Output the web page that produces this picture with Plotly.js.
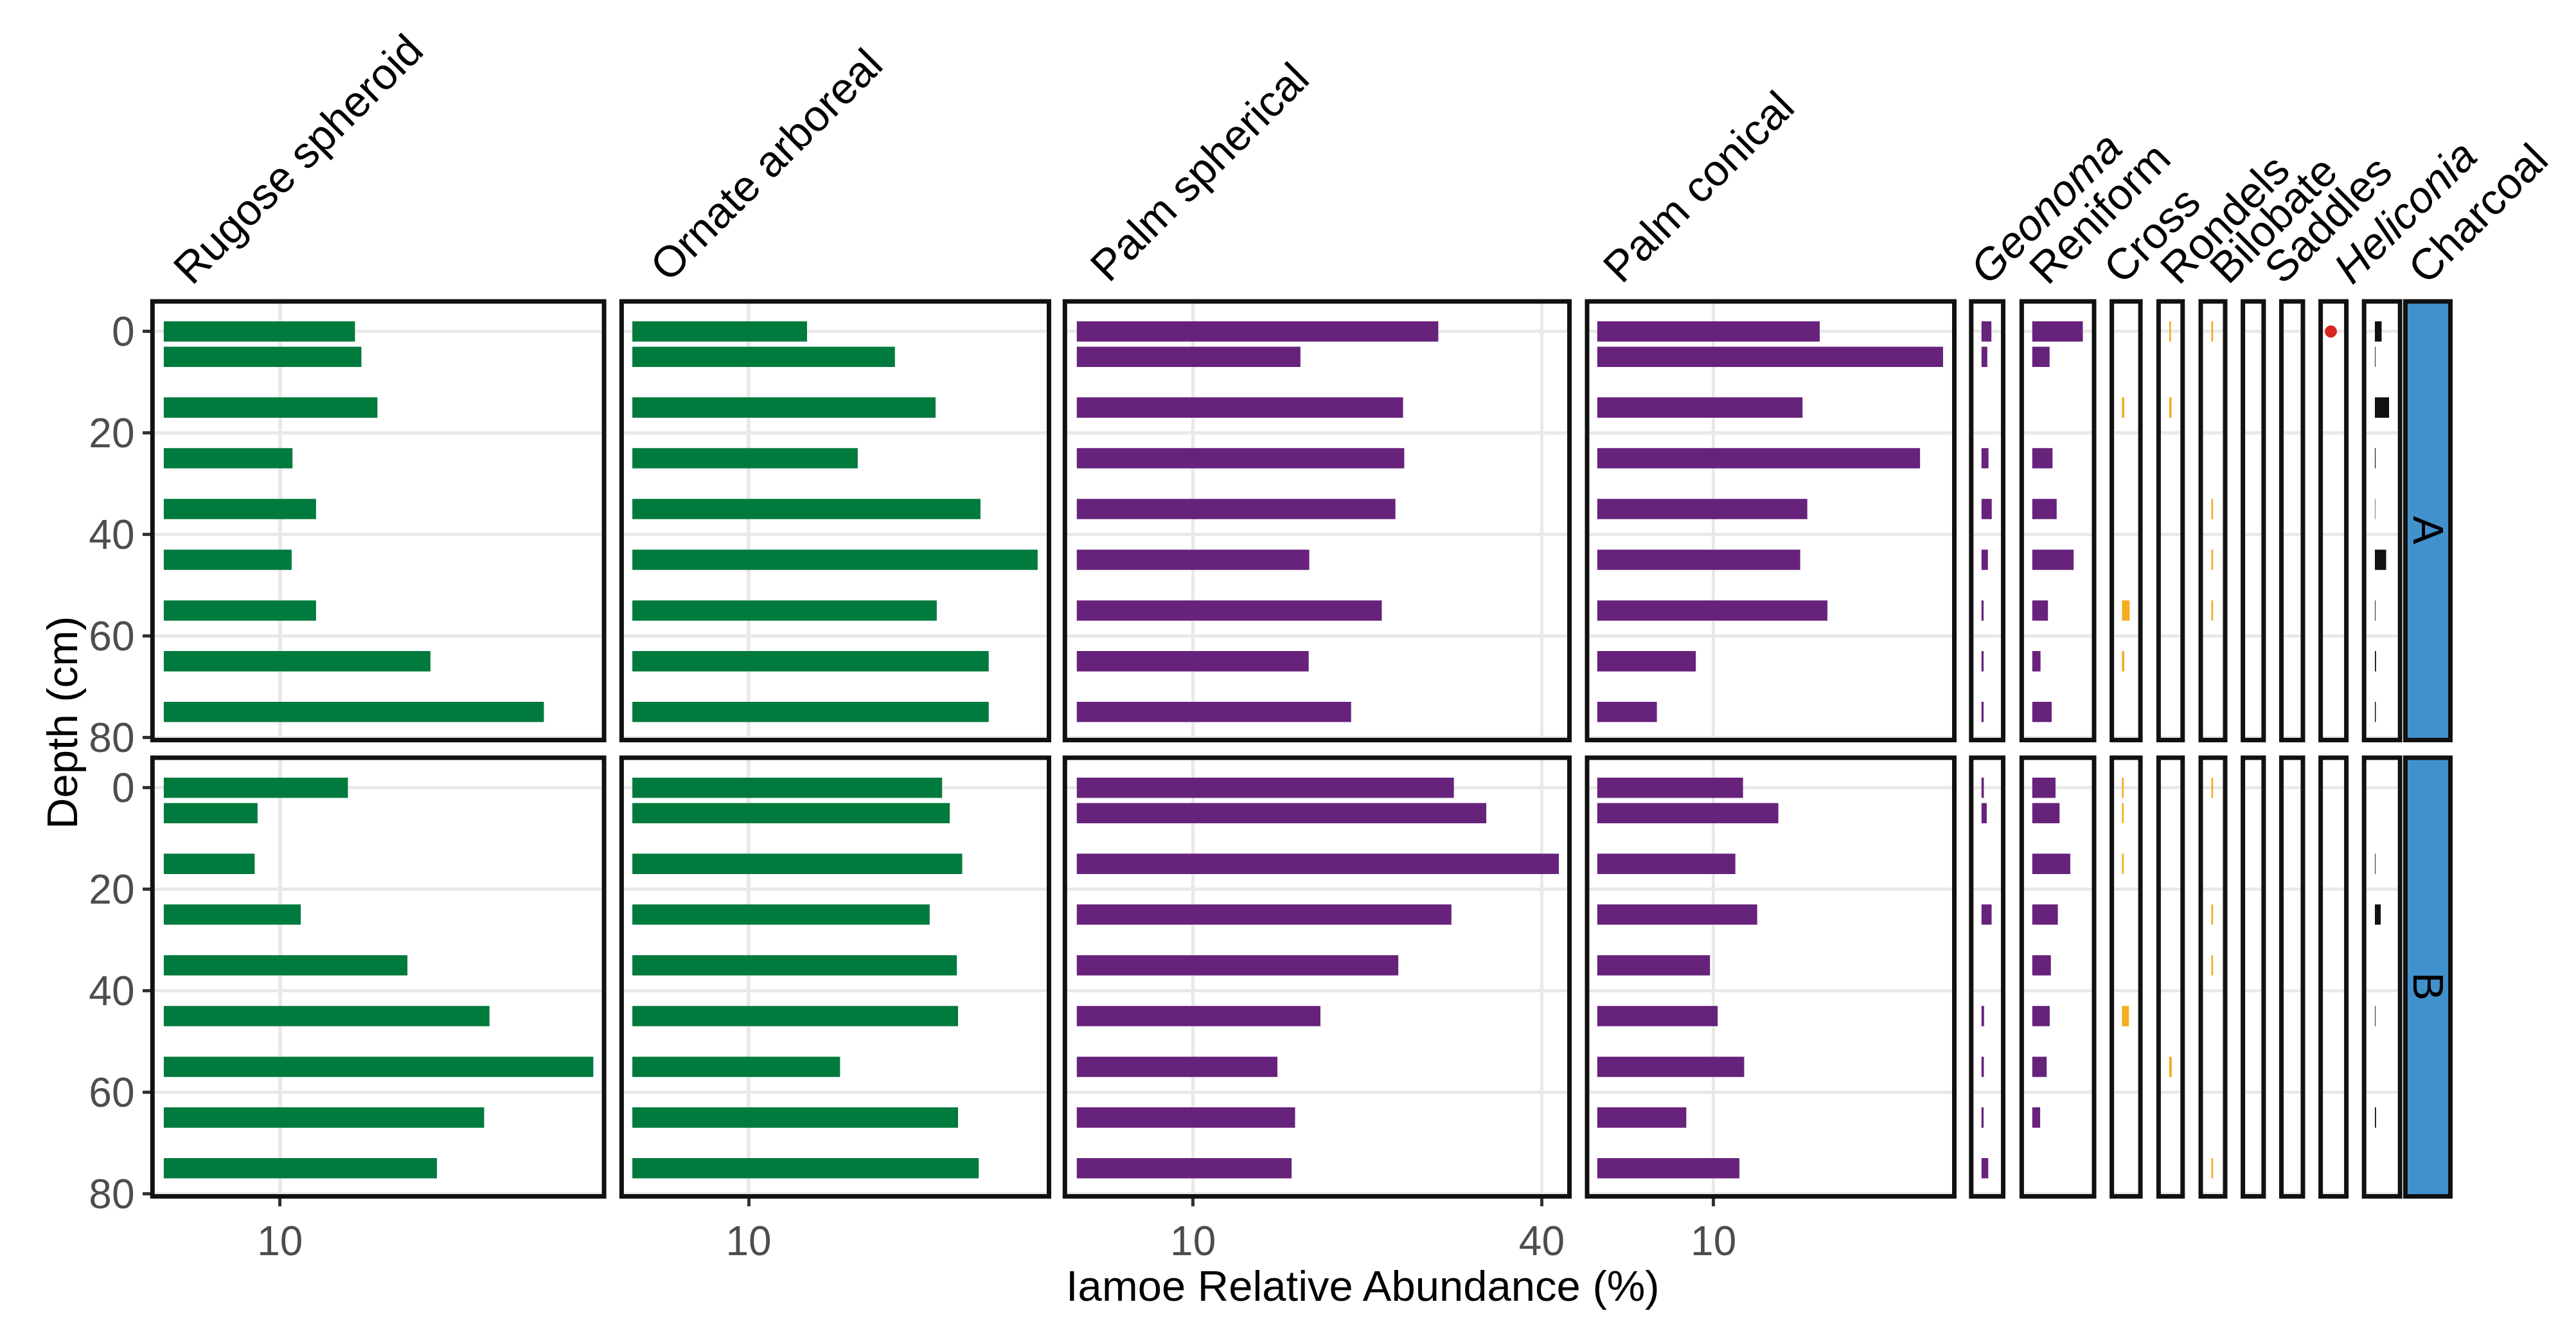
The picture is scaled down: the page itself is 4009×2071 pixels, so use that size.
<!DOCTYPE html>
<html>
<head>
<meta charset="utf-8">
<script src="https://cdn.plot.ly/plotly-3.0.1.min.js"></script>
<style>html,body{margin:0;padding:0;background:#fff;}</style>
</head>
<body>
<div id="chart" style="width:4009px;height:2071px;"></div>
<script>
// ---------------- DATA ----------------
const depth = [0, 5, 15, 25, 35, 45, 55, 65, 75];
const depthTicks = [0, 20, 40, 60, 80];
const abundanceTicks = [10, 40];

// Site A (top row)
const rugoseA    = [16.45, 17.0, 18.38, 11.07, 13.1, 11.0, 13.1, 22.94, 32.7];
const ornateA    = [15.03, 22.59, 26.09, 19.39, 29.95, 34.87, 26.19, 30.66, 30.66];
const palmSphA   = [31.1, 19.24, 28.07, 28.17, 27.41, 20.0, 26.24, 19.95, 23.6];
const palmConA   = [19.14, 29.75, 17.66, 27.77, 18.07, 17.46, 19.8, 8.48, 5.13];
const geonomaA   = [0.85, 0.5, 0, 0.6, 0.88, 0.55, 0.18, 0.18, 0.18];
const reniformA  = [4.35, 1.49, 0, 1.74, 2.1, 3.56, 1.35, 0.71, 1.67];
const crossA     = [0, 0, 0.2, 0, 0, 0, 0.66, 0.2, 0];
const rondelsA   = [0.15, 0, 0.2, 0, 0, 0, 0, 0, 0];
const bilobateA  = [0.15, 0, 0, 0, 0.15, 0.15, 0.15, 0, 0];
const saddlesA   = [0, 0, 0, 0, 0, 0, 0, 0, 0];
const otherA     = [0, 0, 0, 0, 0, 0, 0, 0, 0];
const heliconiaA = [1, 0, 0, 0, 0, 0, 0, 0, 0];   // presence
const charcoalA  = [0.58, 0.05, 1.22, 0.06, 0.03, 0.97, 0.05, 0.1, 0.08];

// Site B (bottom row)
const rugoseB    = [15.84, 8.07, 7.82, 11.78, 20.96, 28.02, 36.95, 27.56, 23.5];
const ornateB    = [26.65, 27.31, 28.38, 25.58, 27.92, 28.02, 17.87, 28.02, 29.8];
const palmSphB   = [32.44, 35.23, 41.47, 32.23, 27.66, 20.96, 17.26, 18.78, 18.48];
const palmConB   = [12.54, 15.58, 11.88, 13.76, 9.7, 10.36, 12.64, 7.66, 12.23];
const geonomaB   = [0.2, 0.45, 0, 0.87, 0, 0.22, 0.2, 0.18, 0.58];
const reniformB  = [2.0, 2.35, 3.27, 2.2, 1.6, 1.5, 1.24, 0.68, 0];
const crossB     = [0.15, 0.15, 0.15, 0, 0, 0.6, 0, 0, 0];
const rondelsB   = [0, 0, 0, 0, 0, 0, 0.22, 0, 0];
const bilobateB  = [0.15, 0, 0, 0.15, 0.15, 0, 0, 0, 0.15];
const saddlesB   = [0, 0, 0, 0, 0, 0, 0, 0, 0];
const otherB     = [0, 0, 0, 0, 0, 0, 0, 0, 0];
const heliconiaB = [0, 0, 0, 0, 0, 0, 0, 0, 0];
const charcoalB  = [0, 0, 0.05, 0.5, 0, 0.05, 0, 0.1, 0];

const siteLabels = ['A', 'B'];
const columnLabels = ['Rugose spheroid', 'Ornate arboreal', 'Palm spherical', 'Palm conical',
  '<i>Geonoma</i>', 'Reniform', 'Cross', 'Rondels', 'Bilobate', 'Saddles', '<i>Heliconia</i>', 'Charcoal'];

// ---------------- STYLE / LAYOUT GEOMETRY (px) ----------------
const W = 4009, H = 2071;
const GREEN = '#007a3d', PURPLE = '#67227b', ORANGE = '#f5ac1f', BLACK = '#111111', RED = '#d7261e';
const STRIP = '#4191cc';
const columns = [
  {A: rugoseA, B: rugoseB, color: GREEN},
  {A: ornateA, B: ornateB, color: GREEN},
  {A: palmSphA, B: palmSphB, color: PURPLE},
  {A: palmConA, B: palmConB, color: PURPLE},
  {A: geonomaA, B: geonomaB, color: PURPLE},
  {A: reniformA, B: reniformB, color: PURPLE},
  {A: crossA, B: crossB, color: ORANGE},
  {A: rondelsA, B: rondelsB, color: ORANGE},
  {A: bilobateA, B: bilobateB, color: ORANGE},
  {A: saddlesA, B: saddlesB, color: ORANGE},
  {A: otherA, B: otherB, color: ORANGE},
  {A: heliconiaA, B: heliconiaB, color: RED, point: true},
  {A: charcoalA, B: charcoalB, color: BLACK}
];
const colLeft  = [233.8, 963.9, 1653.8, 2466.5, 3064.3, 3142.9, 3283.1, 3355.9, 3421.5, 3487.1, 3547.0, 3608.1, 3675.7];
const colRight = [943.6, 1636.0, 2446.0, 3045.0, 3121.0, 3262.5, 3334.6, 3400.3, 3466.5, 3526.4, 3587.5, 3655.1, 3738.7];
const zeroOff  = [21.1, 20.2, 22.0, 19.3, 19.5, 19.9, 19.3, 20, 20, 20, 20, 19.4, 20.3];
const rowTop = [465.4, 1175.4], rowBot = [1155.1, 1865.1], rowZero = [515.7, 1225.7];
const stripL = 3740, stripR = 3817;
const pxPerPct = 18.09, pxPerCm = 7.895, BW = 7;
const labelLeft   = [252, 994, 1679, 2477, 3048, 3140, 3256, 3344, 3421, 3506, 3614, 3730];
const labelBottom = [458, 454, 454, 456, 458, 458, 458, 458, 458, 458, 458, 458];

const fx = px => px / W;
const fy = px => 1 - px / H;
const FONT = 'Liberation Sans, Arial, Helvetica, sans-serif';

const layout = {
  width: W, height: H, autosize: false,
  margin: {l: 0, r: 0, t: 0, b: 0, pad: 0},
  paper_bgcolor: '#ffffff', plot_bgcolor: '#ffffff',
  showlegend: false, barmode: 'overlay', hovermode: false,
  font: {family: FONT, color: '#000'},
  shapes: [], annotations: []
};

// y axes (rows)
for (let r = 0; r < 2; r++) {
  const t = rowTop[r] + BW / 2, b = rowBot[r] - BW / 2;
  const key = r === 0 ? 'yaxis' : 'yaxis2';
  layout[key] = {
    domain: [fy(b), fy(t)],
    range: [(b - rowZero[r]) / pxPerCm, (t - rowZero[r]) / pxPerCm],
    anchor: 'x',
    tickmode: 'array', tickvals: depthTicks, ticktext: depthTicks.map(String),
    ticks: 'outside', ticklen: 14, tickwidth: 5, tickcolor: '#333333',
    tickfont: {size: 64, color: '#4d4d4d', family: FONT},
    showgrid: true, gridcolor: '#ebe8e8', gridwidth: 5.5,
    zeroline: false, showline: false, fixedrange: true
  };
}

const traces = [];
columns.forEach((col, c) => {
  const l = colLeft[c] + BW / 2, rr = colRight[c] - BW / 2, z = colLeft[c] + zeroOff[c];
  const xk = c === 0 ? 'xaxis' : 'xaxis' + (c + 1);
  const xref = c === 0 ? 'x' : 'x' + (c + 1);
  layout[xk] = {
    domain: [fx(l), fx(rr)],
    range: [(l - z) / pxPerPct, (rr - z) / pxPerPct],
    anchor: 'y2',
    tickmode: 'array', tickvals: abundanceTicks, ticktext: abundanceTicks.map(String),
    ticks: 'outside', ticklen: 14, tickwidth: 5, tickcolor: '#333333',
    tickfont: {size: 64, color: '#4d4d4d', family: FONT},
    showgrid: true, gridcolor: '#ebe8e8', gridwidth: 5.5,
    zeroline: false, showline: false, fixedrange: true
  };
  ['A', 'B'].forEach((site, r) => {
    const yref = r === 0 ? 'y' : 'y2';
    const vals = col[site];
    if (col.point) {
      const xs = [], ys = [];
      vals.forEach((v, i) => { if (v > 0) { xs.push(0); ys.push(depth[i]); } });
      traces.push({type: 'scatter', mode: 'markers', x: xs.length ? xs : [null], y: ys.length ? ys : [null],
        xaxis: xref, yaxis: yref, marker: {color: col.color, size: 19, line: {width: 0}},
        cliponaxis: false, hoverinfo: 'skip'});
    } else {
      traces.push({type: 'bar', orientation: 'h', x: vals, y: depth, width: 4, base: 0,
        xaxis: xref, yaxis: yref, marker: {color: col.color, line: {width: 0}}, hoverinfo: 'skip'});
    }
    layout.shapes.push({type: 'rect', xref: xref + ' domain', yref: yref + ' domain',
      x0: 0, x1: 1, y0: 0, y1: 1, line: {color: '#111111', width: BW}, fillcolor: 'rgba(0,0,0,0)', layer: 'above'});
  });
});

// right-hand site strips
for (let r = 0; r < 2; r++) {
  layout.shapes.push({type: 'rect', xref: 'paper', yref: 'paper',
    x0: fx(stripL + BW / 2), x1: fx(stripR - BW / 2), y0: fy(rowBot[r] - BW / 2), y1: fy(rowTop[r] + BW / 2),
    fillcolor: STRIP, line: {color: '#111111', width: BW}, layer: 'above'});
  layout.annotations.push({xref: 'paper', yref: 'paper', x: fx((stripL + stripR) / 2), y: fy((rowTop[r] + rowBot[r]) / 2 + 14),
    text: siteLabels[r], showarrow: false, textangle: 90, xanchor: 'center', yanchor: 'middle',
    font: {size: 66, color: '#000', family: FONT}});
}

// column labels
columnLabels.forEach((t, i) => {
  layout.annotations.push({xref: 'paper', yref: 'paper', x: fx(labelLeft[i]), y: fy(labelBottom[i]),
    text: t, showarrow: false, textangle: -45, xanchor: 'left', yanchor: 'bottom',
    font: {size: 68, color: '#000', family: FONT}});
});

// axis titles
layout.annotations.push({xref: 'paper', yref: 'paper', x: fx(2121), y: fy(2000),
  text: 'Iamoe Relative Abundance (%)', showarrow: false, xanchor: 'center', yanchor: 'middle',
  font: {size: 67, color: '#000', family: FONT}});
layout.annotations.push({xref: 'paper', yref: 'paper', x: fx(96), y: fy(1125),
  text: 'Depth (cm)', showarrow: false, textangle: -90, xanchor: 'center', yanchor: 'middle',
  font: {size: 67, color: '#000', family: FONT}});

Plotly.newPlot('chart', traces, layout, {displayModeBar: false, staticPlot: true});
</script>
</body>
</html>
